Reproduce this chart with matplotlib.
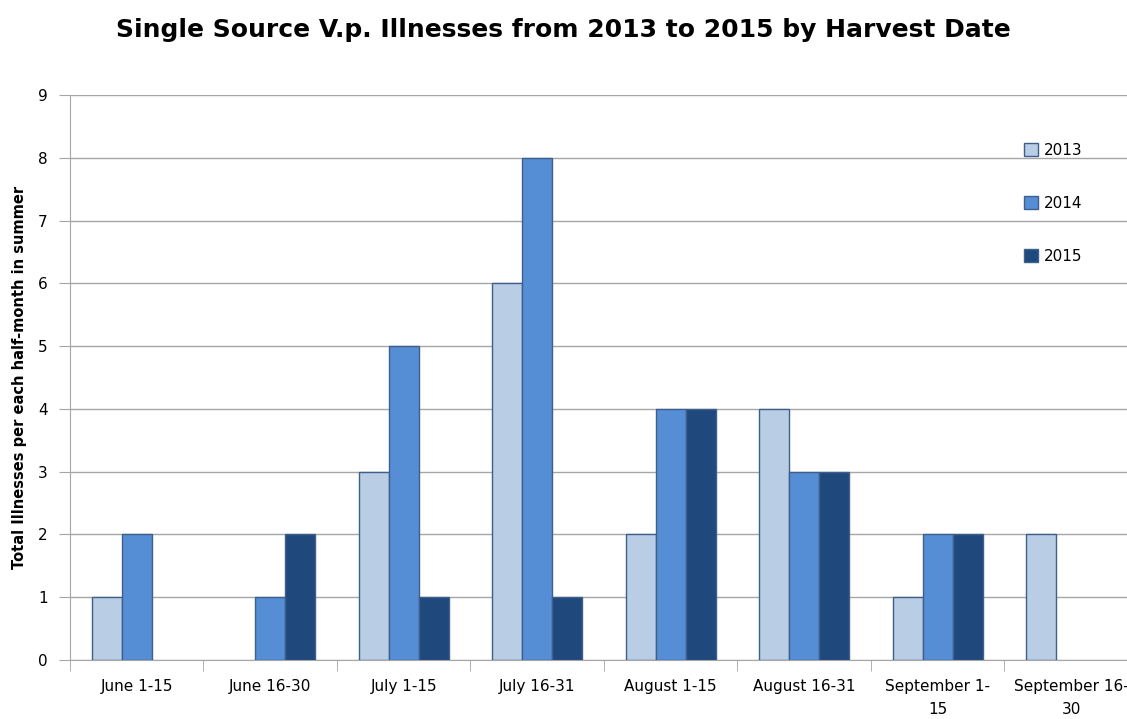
import numpy as np
import matplotlib.pyplot as plt
from matplotlib.patches import Patch

periods = ['June 1-15', 'June 16-30', 'July 1-15', 'July 16-31',
           'August 1-15', 'August 16-31', 'September 1-\n15', 'September 16-\n30']
years = ['2013', '2014', '2015']
ill_2013 = [1, 0, 3, 6, 2, 4, 1, 2]
ill_2014 = [2, 1, 5, 8, 4, 3, 2, 0]
ill_2015 = [0, 2, 1, 1, 4, 3, 2, 0]
colors = ['#B9CDE5', '#558ED5', '#1F497D']
edge = '#3E5F8A'


def plot():
    fig = plt.figure(figsize=(11.27, 7.19), dpi=100)
    ax = fig.add_axes([0.0621, 0.0821, 0.9379, 0.7858])

    x = np.arange(len(periods))
    w = 0.225
    series = [ill_2013, ill_2014, ill_2015]
    for i, (vals, c) in enumerate(zip(series, colors)):
        bars = ax.bar(x + (i - 1) * w, vals, width=w, color=c, edgecolor=edge,
                      linewidth=1, zorder=3)
        for b, v in zip(bars, vals):
            if v == 0:
                b.set_visible(False)

    ax.set_yticks(range(10))
    ax.yaxis.grid(True, color='#A6A6A6', linewidth=1, zorder=0)
    ax.set_axisbelow(True)

    ax.set_xticks(x)
    ax.set_xticklabels(periods, fontsize=11, linespacing=1.6)
    ax.set_xticks(np.arange(-0.5, 7.5, 1), minor=True)
    ax.tick_params(axis='x', which='major', length=0, pad=14)
    ax.tick_params(axis='x', which='minor', length=8, color='#A6A6A6')
    ax.tick_params(axis='y', length=8, color='#A6A6A6', labelsize=11, pad=8)
    ax.set_xlim(-0.5, 7.418)
    ax.set_ylim(0, 9)

    for s in ['top', 'right']:
        ax.spines[s].set_visible(False)
    for s in ['left', 'bottom']:
        ax.spines[s].set_color('#A6A6A6')

    ax.set_ylabel('Total Illnesses per each half-month in summer', fontsize=10.5,
                  fontweight='bold', labelpad=8)
    fig.suptitle('Single Source V.p. Illnesses from 2013 to 2015 by Harvest Date',
                 fontsize=18, fontweight='bold', y=0.975)

    handles = [Patch(facecolor=c, edgecolor=edge, label=yr) for c, yr in zip(colors, years)]
    ax.legend(handles=handles, loc='upper left', bbox_to_anchor=(0.89, 0.94), frameon=False,
              fontsize=11, labelspacing=2.5, handlelength=0.9, handleheight=0.9,
              handletextpad=0.4)

    fig.savefig('out.png', dpi=100)


if __name__ == '__main__':
    plot()
